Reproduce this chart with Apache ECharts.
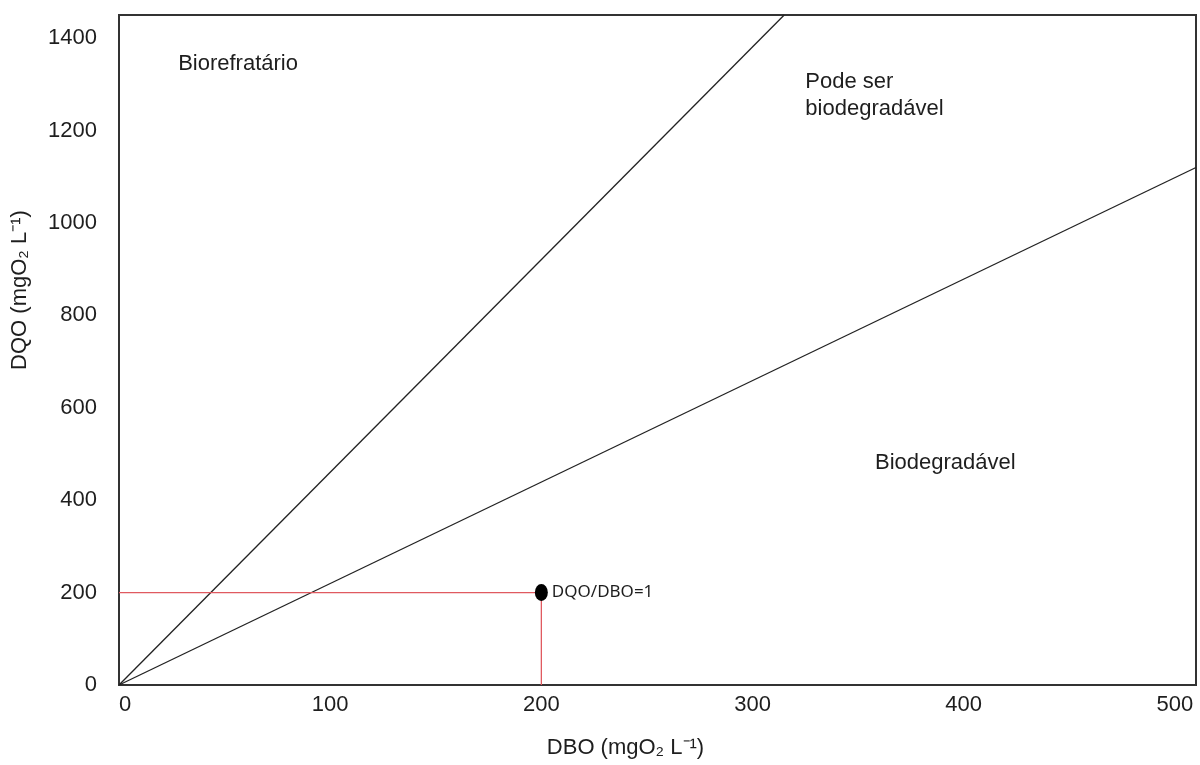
<!DOCTYPE html>
<html>
<head>
<meta charset="utf-8">
<script src="https://cdn.jsdelivr.net/npm/echarts@6/dist/echarts.min.js"></script>
<style>
  html, body { margin: 0; padding: 0; background: #fff; }
  #main { width: 1200px; height: 765px; }
</style>
</head>
<body>
<div id="main"></div>
<script>
// limits of the zones (DBO, DQO)
var lineBiorefratario = [[0, 0], [315, 1450]];
var lineBiodegradavel = [[0, 0], [510, 1120]];
// reference point DQO/DBO
var refPoint = [200, 200];
var refHoriz = [[0, 200], [200, 200]];
var refVert = [[200, 0], [200, 200]];
// zone labels [DBO, DQO, text]
var zoneLabels = [
  [28, 1345, 'Biorefratário'],
  [325, 1276, 'Pode ser\nbiodegradável'],
  [358, 480, 'Biodegradável']
];

var font = "'Liberation Sans', Arial, sans-serif";
var txt = '#1e1e1e';

var chart = echarts.init(document.getElementById('main'));
chart.setOption({
  animation: false,
  grid: {
    left: 119, right: 4, top: 15, bottom: 80,
    show: true, borderColor: '#333', borderWidth: 2
  },
  xAxis: {
    type: 'value', min: 0, max: 510, interval: 100,
    name: 'DBO (mgO₂ L⁻¹)', nameLocation: 'middle', nameGap: 52,
    nameTextStyle: { fontFamily: font, fontSize: 22, color: txt, padding: [0, 64, 0, 0] },
    axisLine: { show: false }, axisTick: { show: false }, splitLine: { show: false },
    axisLabel: {
      fontFamily: font, fontSize: 22, color: txt, margin: 9,
      alignMinLabel: 'left', showMaxLabel: false,
      formatter: function (v) { return String(v); }
    }
  },
  yAxis: {
    type: 'value', min: 0, max: 1450, interval: 200,
    name: 'DQO (mgO₂ L⁻¹)', nameLocation: 'middle', nameGap: 88,
    nameTextStyle: { fontFamily: font, fontSize: 22, color: txt, padding: [0, 0, 0, 120] },
    axisLine: { show: false }, axisTick: { show: false }, splitLine: { show: false },
    axisLabel: {
      fontFamily: font, fontSize: 22, color: txt, margin: 22, showMaxLabel: false,
      formatter: function (v) { return String(v); }
    }
  },
  series: [
    {
      type: 'line', data: lineBiorefratario, symbol: 'none',
      lineStyle: { color: '#222', width: 1.3 }
    },
    {
      type: 'line', data: lineBiodegradavel, symbol: 'none',
      lineStyle: { color: '#222', width: 1.3 }
    },
    {
      type: 'line', data: refHoriz, symbol: 'none',
      lineStyle: { color: '#e05a60', width: 1.3 }
    },
    {
      type: 'line', data: refVert, symbol: 'none',
      lineStyle: { color: '#e05a60', width: 1.3 }
    },
    {
      type: 'scatter', data: [refPoint], symbol: 'circle', symbolSize: [13, 17], z: 10,
      itemStyle: { color: '#000', opacity: 1 },
      label: {
        show: true, position: 'right', distance: 4, formatter: 'DQO/DBO=1',
        fontFamily: "'Noto Sans', sans-serif", fontSize: 17, color: txt, opacity: 1
      }
    },
    {
      type: 'scatter', symbolSize: 0, silent: true,
      itemStyle: { opacity: 1 },
      data: zoneLabels.map(function (d) { return { value: [d[0], d[1]], name: d[2] }; }),
      label: {
        show: true, position: 'right', distance: 0, formatter: '{b}',
        fontFamily: font, fontSize: 22, color: txt, opacity: 1, lineHeight: 27, align: 'left'
      }
    }
  ]
});
</script>
</body>
</html>
